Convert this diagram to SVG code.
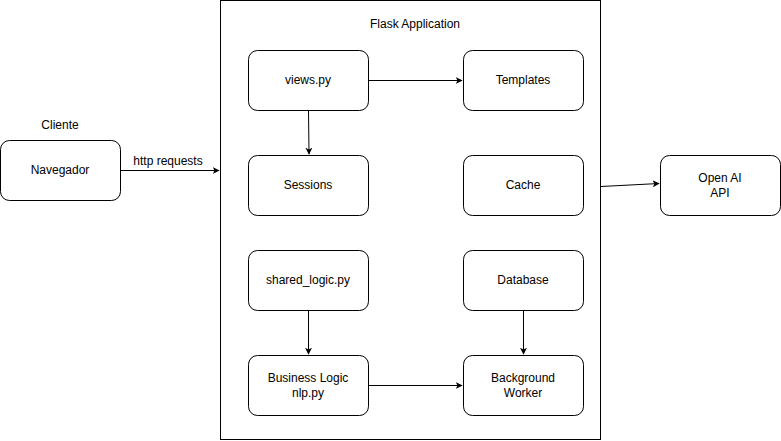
<svg xmlns="http://www.w3.org/2000/svg" width="781" height="441" viewBox="0 0 781 441">
<style>
.box{fill:#fff;stroke:#000;stroke-width:1}
.t{font-family:"Liberation Sans",Arial,sans-serif;font-size:12px;fill:#000;text-anchor:middle;dominant-baseline:central}
.c{fill:none;stroke:#000;stroke-width:1}
</style>
<defs>
<marker id="a" viewBox="0 0 10 10" refX="9" refY="5" markerWidth="7" markerHeight="7" markerUnits="userSpaceOnUse" orient="auto">
<path d="M0,0 L10,5 L0,10 L2.5,5 Z" fill="#000"/>
</marker>
</defs>
<rect width="781" height="441" fill="#fff"/>
<g id="flask">
<rect x="220.5" y="0.5" width="380" height="439" fill="#fff" stroke="#000"/>
<text class="t" x="415" y="24">Flask Application</text>
</g>
<g id="cliente"><text class="t" x="60" y="125">Cliente</text></g>
<g id="navegador"><rect class="box" x="0.5" y="140.5" width="120" height="60" rx="9"/><text class="t" x="60" y="170">Navegador</text></g>
<g id="views"><rect class="box" x="248.5" y="50.5" width="120" height="60" rx="9"/><text class="t" x="308" y="80">views.py</text></g>
<g id="templates"><rect class="box" x="463.5" y="50.5" width="120" height="60" rx="9"/><text class="t" x="523" y="80">Templates</text></g>
<g id="sessions"><rect class="box" x="248.5" y="155.5" width="120" height="60" rx="9"/><text class="t" x="308" y="185">Sessions</text></g>
<g id="cache"><rect class="box" x="463.5" y="155.5" width="120" height="60" rx="9"/><text class="t" x="523" y="185">Cache</text></g>
<g id="shared"><rect class="box" x="248.5" y="250.5" width="120" height="60" rx="9"/><text class="t" x="308" y="280">shared_logic.py</text></g>
<g id="database"><rect class="box" x="463.5" y="250.5" width="120" height="60" rx="9"/><text class="t" x="523" y="280">Database</text></g>
<g id="business"><rect class="box" x="248.5" y="355.5" width="120" height="60" rx="9"/><text class="t" x="308" y="378">Business Logic</text><text class="t" x="308" y="393">nlp.py</text></g>
<g id="background"><rect class="box" x="463.5" y="355.5" width="120" height="60" rx="9"/><text class="t" x="523" y="378">Background</text><text class="t" x="523" y="393">Worker</text></g>
<g id="openai"><rect class="box" x="660.5" y="155.5" width="120" height="60" rx="9"/><text class="t" x="720" y="178">Open AI</text><text class="t" x="720" y="193">API</text></g>
<g id="connectors">
<path class="c" d="M120.5,170.5 L219,170.5" marker-end="url(#a)"/>
<text class="t" x="168" y="161">http requests</text>
<path class="c" d="M368.5,80.5 L462,80.5" marker-end="url(#a)"/>
<path class="c" d="M308.5,110.5 L309,154" marker-end="url(#a)"/>
<path class="c" d="M308.5,310.5 L308.5,354" marker-end="url(#a)"/>
<path class="c" d="M523.5,310.5 L523.5,354" marker-end="url(#a)"/>
<path class="c" d="M368.5,385.5 L462,385.5" marker-end="url(#a)"/>
<path class="c" d="M601,186.5 L659,183.5" marker-end="url(#a)"/>
</g>
</svg>
